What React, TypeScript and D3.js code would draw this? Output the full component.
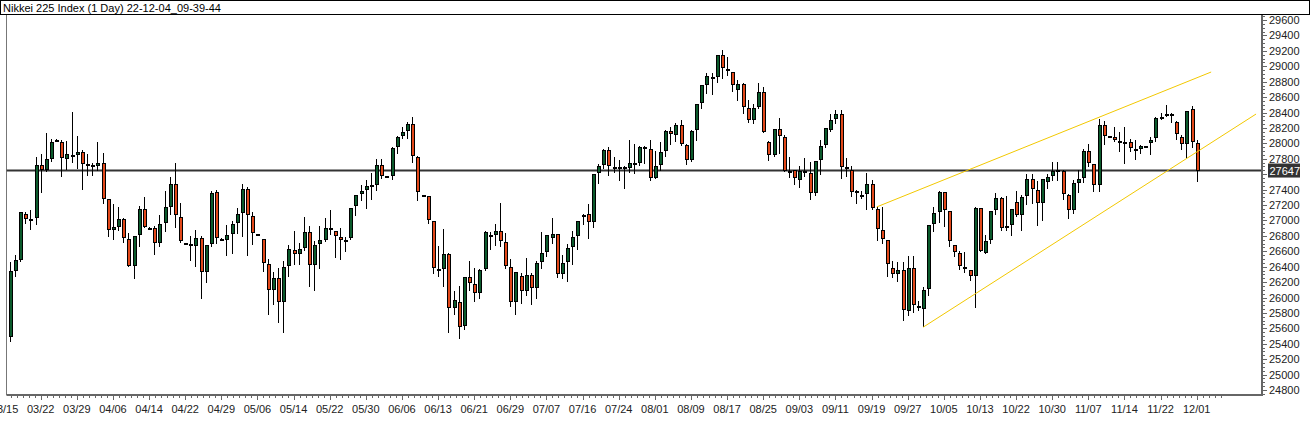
import React from "react";
import * as d3 from "d3";

const TITLE = "Nikkei 225 Index (1 Day) 22-12-04_09-39-44";
const LAST_PRICE = 27647;

const opens = [
  25483,26348,26491,27079,27018,27027,27714,27658,27801,28035,
  28013,27801,27844,27844,27883,27727,27714,27702,27740,27278,
  26871,26919,27018,26759,26413,26807,27144,26905,26897,26703,
  26962,27178,27468,27049,26703,26690,26664,26768,26327,26694,
  27364,26755,26742,26820,26962,27092,27403,27053,26820,26755,
  26430,26093,26249,25937,26404,26612,26560,26638,26845,26417,
  26690,26742,26897,26858,26781,26752,26768,27183,27338,27390,
  27455,27455,27714,27572,27572,27948,28091,28156,28246,27818,
  27325,27312,26988,26365,26365,26560,25860,25937,25626,26262,
  26171,26054,26365,26807,26807,26858,26716,26391,25937,26275,
  26080,26288,26119,26456,26586,26768,26820,26300,26456,26651,
  26794,27060,27079,26975,27611,27714,27909,27693,27693,27689,
  27676,27740,27740,27940,27922,27546,27714,27896,28155,28103,
  28233,27974,27779,28168,28519,28752,28860,28856,29141,28960,
  28921,28687,28765,28454,28298,28467,28661,28013,27844,28181,
  28078,27637,27649,27520,27637,27610,27351,27779,27974,28168,
  28311,28376,27688,27649,27377,27325,27338,27468,27144,26871,
  26742,26378,26301,26352,25821,26378,25885,25847,26106,26949,
  27105,27364,27118,26677,26573,26391,26352,26275,27157,26573,
  26742,27131,27287,26923,26936,27235,27066,27312,27533,27390,
  27222,27494,27572,27650,27637,27325,27131,27481,27546,27901,
  27728,27455,28233,28091,28078,28026,28013,28013,27922,27922,
  27961,28000,28065,28337,28376,28376,28272,28078,27987,28441,28000,
];

const highs = [
  26456,26551,27110,27105,27135,27823,27862,28134,28056,28050,
  28043,28030,28402,28095,27913,27862,27740,28013,27870,27278,
  27213,27170,27031,26841,26794,27187,27299,26915,26928,27066,
  27382,27563,27745,27222,26710,26798,26876,26798,26677,27386,
  27394,26770,26936,26992,27161,27472,27429,27105,26830,26755,
  26499,26335,26383,26469,26677,26858,26703,27040,26923,26729,
  26923,27031,27131,26858,26897,26781,27157,27325,27455,27520,
  27611,27792,27792,27580,27948,28091,28207,28272,28337,27831,
  27330,27312,26988,26668,26889,26573,26080,26145,26262,26469,
  26378,26365,26858,26845,26949,27222,26832,26495,26327,26314,
  26508,26314,26469,26845,26807,27027,26820,26547,26690,26858,
  26988,27079,27209,27598,27728,27922,27948,27818,27779,27702,
  28039,27987,27961,27961,28043,27896,28017,28168,28207,28259,
  28298,27987,28168,28505,28752,28908,28908,29141,29206,29115,
  28921,28817,28778,28557,28505,28778,28726,28026,28181,28324,
  28103,27818,27649,27701,27805,27753,27766,28039,28194,28376,
  28428,28428,27805,27701,27390,27377,27620,27520,27170,27170,
  26742,26469,26456,26456,26534,26534,25950,26132,26936,27170,
  27377,27364,27118,26677,26599,26586,26352,27170,27157,26807,
  27118,27351,27300,27312,27144,27377,27325,27598,27598,27507,
  27533,27598,27753,27753,27650,27338,27520,27650,27922,27987,
  27728,28311,28285,28095,28207,28143,28207,28052,28039,27974,
  27965,28078,28337,28389,28493,28389,28285,28104,28415,28480,28039,
];

const lows = [
  25419,26270,26465,26958,26880,26945,27360,27624,27762,28030,
  27563,27650,27749,27667,27399,27580,27580,27637,27209,26789,
  26746,26867,26711,26400,26244,26659,26897,26895,26556,26655,
  26854,27070,26897,26711,26695,26478,26400,25976,26184,26659,
  26694,26740,26543,26560,26820,26781,26543,26685,26810,26335,
  25769,25907,25674,25535,26270,26426,26426,26608,26132,26080,
  26365,26724,26807,26517,26491,26595,26742,27053,27248,27144,
  27260,27377,27533,27565,27520,27857,28052,28052,27740,27248,
  27320,26949,26300,26262,26140,25544,25769,25457,25574,26080,
  25937,25976,26340,26612,26664,26651,26365,25872,25769,25911,
  26015,25898,25976,26365,26521,26690,26249,26236,26205,26417,
  26612,26936,26755,26897,27468,27663,27572,27611,27507,27403,
  27611,27598,27702,27728,27507,27533,27636,27818,27974,28013,
  27961,27714,27753,28026,28441,28635,28622,28778,28830,28869,
  28661,28544,28376,28259,28246,28441,28129,27766,27818,27857,
  27624,27546,27455,27416,27559,27260,27312,27585,27935,28142,
  28246,27533,27559,27299,27208,27273,27131,27131,26729,26690,
  26262,26249,26197,25691,25756,25795,25821,25613,26015,26846,
  26962,26910,26651,26521,26352,26314,26210,25860,26586,26560,
  26690,27066,26858,26858,26794,27040,26858,27196,27209,26923,
  26988,27403,27507,27507,27261,27014,27079,27351,27481,27689,
  27364,27364,27974,28085,28013,27883,27728,27883,27779,27857,
  27955,27844,28013,28298,28337,28259,28039,27909,27805,27935,27494,
];

const closes = [
  26344,26482,27105,27014,27020,27714,27654,27792,28013,28040,
  27805,27857,27846,27883,27727,27725,27697,27740,27282,26871,
  26915,27018,26768,26413,26794,27144,26910,26903,26703,26949,
  27170,27468,27070,26729,26705,26664,26768,26327,26677,27351,
  26768,26757,26807,26949,27079,27403,27066,26832,26822,26443,
  26093,26249,25937,26391,26625,26560,26625,26845,26417,26677,
  26742,26897,26871,26794,26742,26748,27157,27325,27377,27442,
  27457,27714,27572,27574,27935,28078,28143,28246,27831,27364,
  27327,27001,26378,26367,26560,25860,25963,25613,26262,26184,
  26054,26352,26845,26809,26858,26729,26404,25937,26327,26080,
  26288,26119,26443,26573,26807,26820,26300,26443,26638,26781,
  26988,27070,26975,27598,27702,27909,27702,27695,27691,27687,
  27740,27742,27948,27948,27546,27701,27883,28155,28116,28233,
  27987,27779,28155,28505,28752,28869,28862,29141,28972,28934,
  28752,28765,28467,28298,28454,28661,28142,27844,28181,28091,
  27637,27639,27546,27637,27624,27351,27766,27961,28194,28298,
  28376,27688,27662,27364,27379,27327,27468,27157,26884,26755,
  26430,26301,26352,25834,26378,25899,25887,26093,26936,27092,
  27364,27131,26729,26586,26404,26365,26275,27157,26599,26729,
  27118,27287,26897,26897,27144,27066,27300,27533,27403,27222,
  27533,27559,27637,27652,27338,27131,27481,27533,27901,27741,
  27455,28233,28091,28093,28039,28028,28015,27935,27924,27961,
  27963,28039,28324,28339,28378,28378,28117,27987,28415,28013,27647,
];

const dateLabels = [
  "03/15","03/22","03/29","04/06","04/14","04/22","04/29","05/06","05/14",
  "05/22","05/30","06/06","06/13","06/21","06/29","07/07","07/16","07/24",
  "08/01","08/09","08/17","08/25","09/03","09/11","09/19","09/27","10/05",
  "10/13","10/22","10/30","11/07","11/14","11/22","12/01",
];
const LABEL_STEP = 7; // bars between date labels

const upperTrend = [ { i: 168, p: 27175 }, { i: 232.8, p: 28925 } ];
const lowerTrend = [ { i: 177, p: 25615 }, { i: 241.5, p: 28380 } ];

const priceTicks = d3.range(24800, 29601, 200);
const minorPriceTicks = d3.range(24750, 29651, 50);

const W = 1311, H = 435;
const LEFT = 6.5, RIGHT = 1262, TOP = 15, BOTTOM = 395;
const GREEN = "#0b5a2c", RED = "#e2481a";
const FONT = "'Liberation Sans', Arial, sans-serif";

export default function App() {
  const n = closes.length;
  const x = d3.scaleLinear().domain([0, n - 1]).range([9.7, 1196.7]);
  const y = d3.scaleLinear().domain([24800, 29600]).range([390, 20]);
  const lastIdx = n - 1;
  const firstLabelIdx = lastIdx - LABEL_STEP * (dateLabels.length - 1);

  const bottomTicks: { px: number; major: boolean }[] = [];
  for (let j = 0; ; j++) {
    const idx = firstLabelIdx + (j * LABEL_STEP) / 6;
    const px = x(idx);
    if (px > 1222) break;
    if (px >= LEFT) bottomTicks.push({ px, major: j % 6 === 0 });
  }

  const line = d3
    .line<{ i: number; p: number }>()
    .x((d) => x(d.i))
    .y((d) => y(d.p));

  const shownPriceLabels = priceTicks.filter((v) => Math.abs(y(v) - y(LAST_PRICE)) > 9);

  return (
    <svg
      width={W}
      height={H}
      style={{ position: "absolute", left: 0, top: 0, display: "block", background: "#fff" }}
    >
      <rect x={0} y={0} width={W} height={H} fill="#fff" />
      <defs>
        <clipPath id="plot">
          <rect x={LEFT} y={TOP} width={RIGHT - LEFT} height={BOTTOM - TOP} />
        </clipPath>
      </defs>

      {/* title box */}
      <rect x={0.5} y={0.5} width={1309} height={14} fill="#fff" stroke="#000" />
      <text x={3} y={11.5} fontFamily={FONT} fontSize={11} fill="#000" textLength={218} lengthAdjust="spacingAndGlyphs">
        {TITLE}
      </text>

      {/* left frame */}
      <line x1={LEFT} x2={LEFT} y1={TOP} y2={BOTTOM} stroke="#777" strokeWidth={1} />

      <g clipPath="url(#plot)">
        {/* last price horizontal line */}
        <line x1={LEFT} x2={RIGHT} y1={y(LAST_PRICE)} y2={y(LAST_PRICE)} stroke="#333" strokeWidth={2} />

        {/* candles */}
        <g shapeRendering="crispEdges">
          {closes.map((c, i) => {
            const o = opens[i];
            const cx = Math.round(x(i));
            const top = y(Math.max(o, c));
            const bot = y(Math.min(o, c));
            const up = c >= o;
            const flat = Math.abs(c - o) < 8;
            return (
              <g key={i}>
                <line x1={cx + 0.5} x2={cx + 0.5} y1={y(highs[i])} y2={y(lows[i])} stroke="#000" strokeWidth={1} />
                {flat ? (
                  <rect x={cx - 1.5} y={Math.round(top) - 0.5} width={4} height={2} fill="#000" />
                ) : (
                  <rect
                    x={cx - 1}
                    y={Math.round(top) + 0.5}
                    width={3}
                    height={Math.max(1, Math.round(bot) - Math.round(top) - 1)}
                    fill={up ? GREEN : RED}
                    stroke="#000"
                    strokeWidth={1}
                  />
                )}
              </g>
            );
          })}
        </g>

        {/* trend lines */}
        <path d={line(upperTrend) || ""} fill="none" stroke="#f2c800" strokeWidth={1} />
        <path d={line(lowerTrend) || ""} fill="none" stroke="#f2c800" strokeWidth={1} />
      </g>

      {/* right axis */}
      <line x1={RIGHT} x2={RIGHT} y1={TOP} y2={BOTTOM + 1} stroke="#666" strokeWidth={2} />
      <g shapeRendering="crispEdges">
        {minorPriceTicks.map((v) => (
          <line key={"m" + v} x1={RIGHT + 1} x2={RIGHT + 3} y1={Math.round(y(v)) + 0.5} y2={Math.round(y(v)) + 0.5} stroke="#666" />
        ))}
        {priceTicks.map((v) => (
          <line key={"M" + v} x1={RIGHT + 1} x2={RIGHT + 5} y1={Math.round(y(v)) + 0.5} y2={Math.round(y(v)) + 0.5} stroke="#666" />
        ))}
      </g>
      {shownPriceLabels.map((v) => (
        <text key={"t" + v} x={1269} y={y(v) + 4} fontFamily={FONT} fontSize={11} fill="#222">
          {v}
        </text>
      ))}

      {/* current price marker */}
      <rect x={1268} y={y(LAST_PRICE) - 7} width={32} height={14} fill="#333" />
      <text x={1269.5} y={y(LAST_PRICE) + 4} fontFamily={FONT} fontSize={11} fill="#fff">
        {LAST_PRICE}
      </text>

      {/* bottom axis */}
      <line x1={LEFT} x2={RIGHT} y1={BOTTOM} y2={BOTTOM} stroke="#666" strokeWidth={2} />
      <g shapeRendering="crispEdges">
        {bottomTicks.map((t, k) => (
          <line key={k} x1={Math.round(t.px) + 0.5} x2={Math.round(t.px) + 0.5} y1={BOTTOM + 1} y2={BOTTOM + (t.major ? 5 : 3)} stroke="#666" />
        ))}
      </g>
      {dateLabels.map((lab, k) => (
        <text
          key={lab}
          x={x(firstLabelIdx + k * LABEL_STEP)}
          y={413}
          textAnchor="middle"
          fontFamily={FONT}
          fontSize={11}
          fill="#222"
        >
          {lab}
        </text>
      ))}
    </svg>
  );
}
